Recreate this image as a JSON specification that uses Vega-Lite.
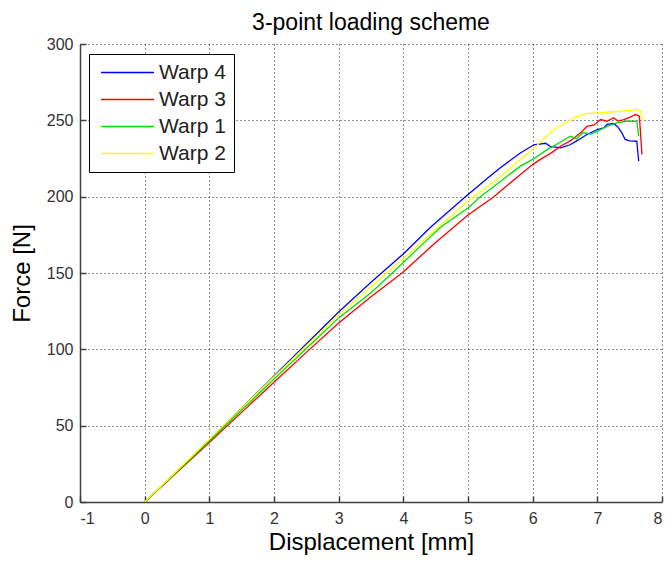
{
  "$schema": "https://vega.github.io/schema/vega-lite/v6.json",
  "width": 582,
  "height": 458,
  "autosize": {"type": "none"},
  "padding": {"left": 80, "top": 44, "right": 7, "bottom": 61},
  "background": "white",
  "title": {
    "text": "3-point loading scheme",
    "font": "Liberation Sans",
    "fontSize": 23,
    "fontWeight": "normal",
    "color": "black",
    "anchor": "middle",
    "offset": 1
  },
  "config": {
    "view": {"stroke": null},
    "axis": {
      "domainColor": "#404040",
      "domainWidth": 1.5,
      "tickColor": "#404040",
      "tickWidth": 1.5,
      "tickSize": -6,
      "grid": true,
      "gridColor": "black",
      "gridDash": [1, 3],
      "gridOpacity": 0.85,
      "gridWidth": 1,
      "labelFont": "Liberation Sans",
      "labelFontSize": 16,
      "labelColor": "#333333",
      "titleFont": "Liberation Sans",
      "titleFontSize": 24,
      "titleFontWeight": "normal",
      "titleColor": "black"
    }
  },
  "data": {
    "values": [
      {"series": "Warp 4", "x": 0, "y": 0},
      {"series": "Warp 4", "x": 0.5, "y": 20},
      {"series": "Warp 4", "x": 1, "y": 40.5},
      {"series": "Warp 4", "x": 1.5, "y": 61.5},
      {"series": "Warp 4", "x": 2, "y": 82.5},
      {"series": "Warp 4", "x": 2.5, "y": 103.5},
      {"series": "Warp 4", "x": 3, "y": 124.5},
      {"series": "Warp 4", "x": 3.5, "y": 144},
      {"series": "Warp 4", "x": 4, "y": 162.5},
      {"series": "Warp 4", "x": 4.42, "y": 180},
      {"series": "Warp 4", "x": 4.96, "y": 200},
      {"series": "Warp 4", "x": 5.3, "y": 212},
      {"series": "Warp 4", "x": 5.5, "y": 219},
      {"series": "Warp 4", "x": 5.81, "y": 228.6},
      {"series": "Warp 4", "x": 6.02, "y": 234},
      {"series": "Warp 4", "x": 6.2, "y": 235},
      {"series": "Warp 4", "x": 6.27, "y": 233},
      {"series": "Warp 4", "x": 6.43, "y": 232},
      {"series": "Warp 4", "x": 6.58, "y": 234},
      {"series": "Warp 4", "x": 6.7, "y": 237},
      {"series": "Warp 4", "x": 6.84, "y": 240.7},
      {"series": "Warp 4", "x": 7.0, "y": 244},
      {"series": "Warp 4", "x": 7.1, "y": 245},
      {"series": "Warp 4", "x": 7.15, "y": 247.4},
      {"series": "Warp 4", "x": 7.25, "y": 248},
      {"series": "Warp 4", "x": 7.31, "y": 246},
      {"series": "Warp 4", "x": 7.38, "y": 241.8},
      {"series": "Warp 4", "x": 7.43, "y": 237.5},
      {"series": "Warp 4", "x": 7.5, "y": 236.5},
      {"series": "Warp 4", "x": 7.61, "y": 236.3},
      {"series": "Warp 4", "x": 7.64, "y": 223.2},

      {"series": "Warp 3", "x": 0, "y": 0},
      {"series": "Warp 3", "x": 0.5, "y": 19.5},
      {"series": "Warp 3", "x": 1, "y": 39},
      {"series": "Warp 3", "x": 1.5, "y": 58.7},
      {"series": "Warp 3", "x": 2, "y": 78.5},
      {"series": "Warp 3", "x": 2.5, "y": 98},
      {"series": "Warp 3", "x": 3, "y": 117.3},
      {"series": "Warp 3", "x": 3.5, "y": 134.5},
      {"series": "Warp 3", "x": 3.98, "y": 150},
      {"series": "Warp 3", "x": 4.24, "y": 160},
      {"series": "Warp 3", "x": 4.5, "y": 170},
      {"series": "Warp 3", "x": 5, "y": 188},
      {"series": "Warp 3", "x": 5.4, "y": 200},
      {"series": "Warp 3", "x": 5.81, "y": 214.5},
      {"series": "Warp 3", "x": 6.0, "y": 221},
      {"series": "Warp 3", "x": 6.12, "y": 224.4},
      {"series": "Warp 3", "x": 6.3, "y": 229},
      {"series": "Warp 3", "x": 6.43, "y": 233},
      {"series": "Warp 3", "x": 6.6, "y": 237},
      {"series": "Warp 3", "x": 6.74, "y": 241.8},
      {"series": "Warp 3", "x": 6.84, "y": 246},
      {"series": "Warp 3", "x": 6.95, "y": 247},
      {"series": "Warp 3", "x": 7.05, "y": 250.5},
      {"series": "Warp 3", "x": 7.15, "y": 249.4},
      {"series": "Warp 3", "x": 7.25, "y": 251.7},
      {"series": "Warp 3", "x": 7.32, "y": 249.5},
      {"series": "Warp 3", "x": 7.41, "y": 250.5},
      {"series": "Warp 3", "x": 7.5, "y": 252},
      {"series": "Warp 3", "x": 7.59, "y": 253.8},
      {"series": "Warp 3", "x": 7.65, "y": 252.7},
      {"series": "Warp 3", "x": 7.69, "y": 227.6},

      {"series": "Warp 1", "x": 0, "y": 0},
      {"series": "Warp 1", "x": 0.5, "y": 20},
      {"series": "Warp 1", "x": 1, "y": 40},
      {"series": "Warp 1", "x": 1.5, "y": 60.2},
      {"series": "Warp 1", "x": 2, "y": 80.5},
      {"series": "Warp 1", "x": 2.5, "y": 100.5},
      {"series": "Warp 1", "x": 3, "y": 120.6},
      {"series": "Warp 1", "x": 3.5, "y": 137},
      {"series": "Warp 1", "x": 3.83, "y": 150},
      {"series": "Warp 1", "x": 4.2, "y": 165},
      {"series": "Warp 1", "x": 4.575, "y": 180},
      {"series": "Warp 1", "x": 5, "y": 192.6},
      {"series": "Warp 1", "x": 5.19, "y": 200},
      {"series": "Warp 1", "x": 5.5, "y": 210},
      {"series": "Warp 1", "x": 5.81, "y": 220},
      {"series": "Warp 1", "x": 6.0, "y": 224.4},
      {"series": "Warp 1", "x": 6.23, "y": 231},
      {"series": "Warp 1", "x": 6.4, "y": 235},
      {"series": "Warp 1", "x": 6.58, "y": 239.6},
      {"series": "Warp 1", "x": 6.68, "y": 238},
      {"series": "Warp 1", "x": 6.78, "y": 242},
      {"series": "Warp 1", "x": 6.9, "y": 241},
      {"series": "Warp 1", "x": 7.0, "y": 242.9},
      {"series": "Warp 1", "x": 7.15, "y": 246},
      {"series": "Warp 1", "x": 7.31, "y": 248.5},
      {"series": "Warp 1", "x": 7.45, "y": 249.4},
      {"series": "Warp 1", "x": 7.61, "y": 249.4},
      {"series": "Warp 1", "x": 7.64, "y": 239.6},

      {"series": "Warp 2", "x": 0, "y": 0},
      {"series": "Warp 2", "x": 0.5, "y": 20.5},
      {"series": "Warp 2", "x": 1, "y": 41},
      {"series": "Warp 2", "x": 1.5, "y": 61.5},
      {"series": "Warp 2", "x": 2, "y": 82},
      {"series": "Warp 2", "x": 2.5, "y": 102.3},
      {"series": "Warp 2", "x": 3, "y": 122.7},
      {"series": "Warp 2", "x": 3.5, "y": 141},
      {"series": "Warp 2", "x": 3.74, "y": 150},
      {"series": "Warp 2", "x": 4.2, "y": 167},
      {"series": "Warp 2", "x": 4.5, "y": 178.5},
      {"series": "Warp 2", "x": 5, "y": 197},
      {"series": "Warp 2", "x": 5.09, "y": 200},
      {"series": "Warp 2", "x": 5.5, "y": 213},
      {"series": "Warp 2", "x": 5.81, "y": 224.4},
      {"series": "Warp 2", "x": 6.0, "y": 231},
      {"series": "Warp 2", "x": 6.33, "y": 244},
      {"series": "Warp 2", "x": 6.64, "y": 251.7},
      {"series": "Warp 2", "x": 6.84, "y": 254.5},
      {"series": "Warp 2", "x": 7.0, "y": 254.8},
      {"series": "Warp 2", "x": 7.15, "y": 255.3},
      {"series": "Warp 2", "x": 7.36, "y": 256},
      {"series": "Warp 2", "x": 7.5, "y": 256.5},
      {"series": "Warp 2", "x": 7.61, "y": 257},
      {"series": "Warp 2", "x": 7.67, "y": 256},
      {"series": "Warp 2", "x": 7.7, "y": 250}
    ]
  },
  "mark": {"type": "line", "strokeWidth": 1.3, "clip": true},
  "encoding": {
    "x": {
      "field": "x",
      "type": "quantitative",
      "scale": {"domain": [-1, 8], "nice": false, "zero": false},
      "axis": {"title": "Displacement [mm]", "values": [-1, 0, 1, 2, 3, 4, 5, 6, 7, 8], "labelExpr": "'' + datum.value", "labelPadding": 14, "titlePadding": 4}
    },
    "y": {
      "field": "y",
      "type": "quantitative",
      "scale": {"domain": [0, 300], "nice": false},
      "axis": {"title": "Force [N]", "values": [0, 50, 100, 150, 200, 250, 300], "labelPadding": 13, "titlePadding": 12}
    },
    "color": {
      "field": "series",
      "type": "nominal",
      "scale": {
        "domain": ["Warp 4", "Warp 3", "Warp 1", "Warp 2"],
        "range": ["#0000ff", "#ff0000", "#00dd00", "#ffff00"]
      },
      "legend": {
        "title": null,
        "orient": "none",
        "legendX": 9,
        "legendY": 10,
        "fillColor": "white",
        "strokeColor": "black",
        "padding": 8,
        "rowPadding": 5,
        "symbolType": "M-5,0H5",
        "symbolSize": 112,
        "symbolOffset": 20,
        "symbolStrokeWidth": 1.5,
        "labelFont": "Liberation Sans",
        "labelFontSize": 21,
        "labelColor": "#222222",
        "labelOffset": 21
      }
    }
  }
}
